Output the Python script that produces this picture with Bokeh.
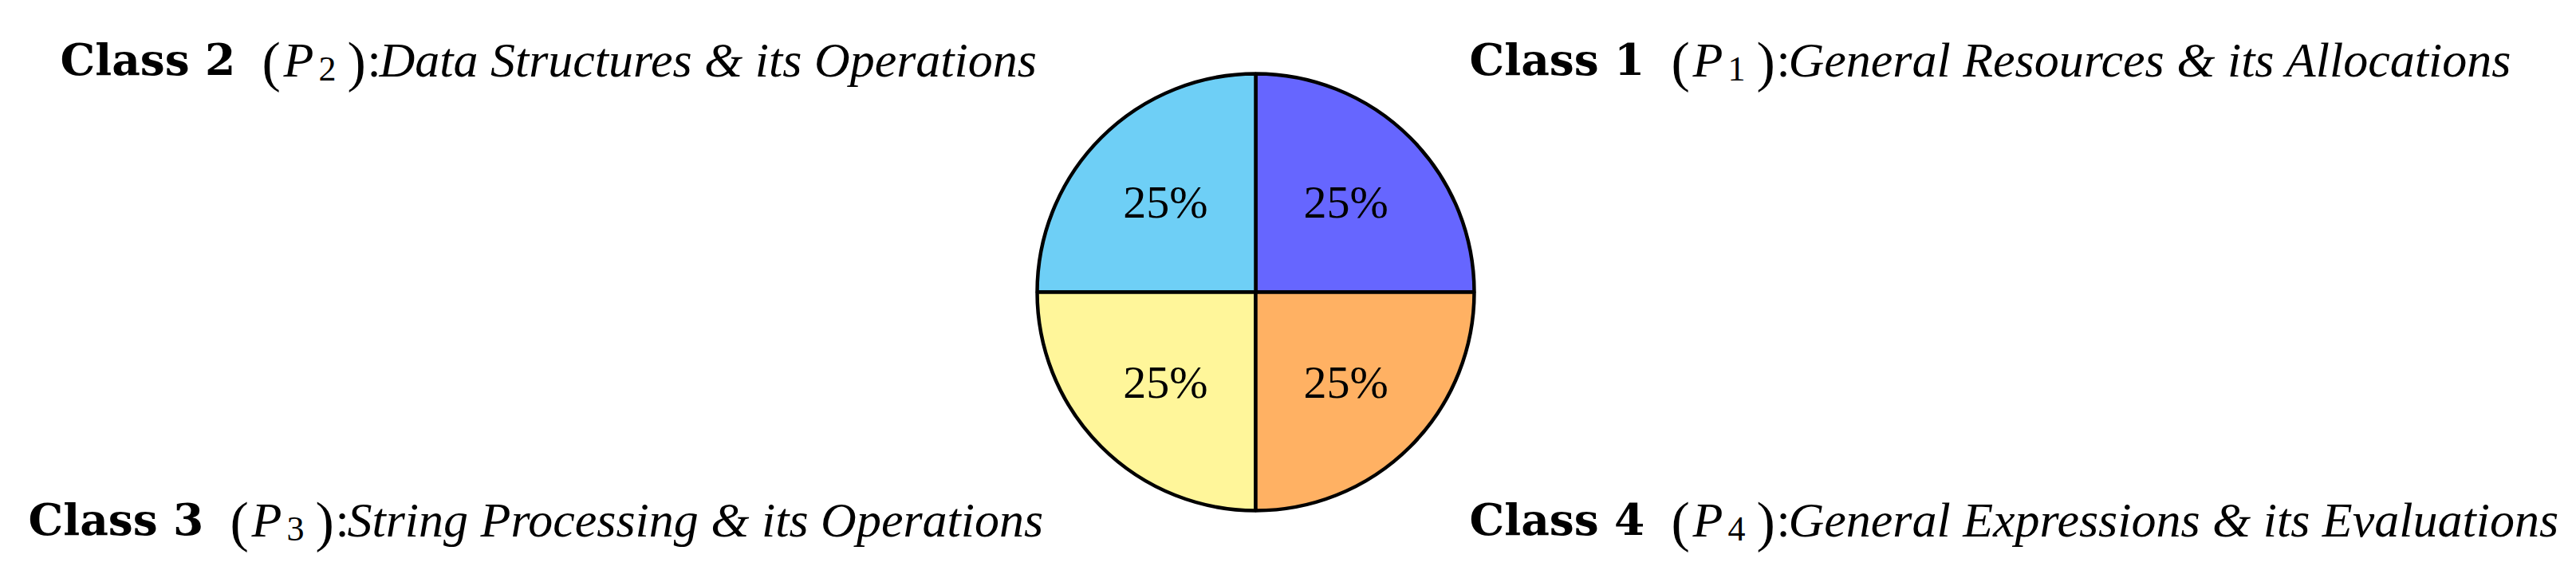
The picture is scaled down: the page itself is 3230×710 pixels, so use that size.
import numpy as np
from bokeh.plotting import figure
from bokeh.models import ColumnDataSource, Range1d
from bokeh.core.properties import value
from bokeh.embed import file_html
from bokeh.resources import INLINE

# ---- data ----
classes = ["Class 1", "Class 2", "Class 3", "Class 4"]
subscripts = ["1", "2", "3", "4"]
descriptions = [
    "General Resources & its Allocations",
    "Data Structures & its Operations",
    "String Processing & its Operations",
    "General Expressions & its Evaluations",
]
shares = [25, 25, 25, 25]
colors = ["#6666FF", "#6ECFF6", "#FFF69A", "#FFB163"]

SERIF = "'Liberation Serif', 'Times New Roman', serif"

W, H = 3214, 694
p = figure(width=W, height=H, x_range=Range1d(0, W), y_range=Range1d(0, H),
           output_backend="svg", toolbar_location=None, min_border=0,
           x_axis_location=None, y_axis_location=None)
p.grid.visible = False
p.outline_line_color = None
p.background_fill_color = "white"

frac = np.array(shares, dtype=float) / sum(shares)
ends = np.cumsum(frac) * 2 * np.pi
starts = ends - frac * 2 * np.pi
mids = (starts + ends) / 2
cx, cy, R, LR = 1574, 328, 274, 160

wsrc = ColumnDataSource(dict(
    start=starts, end=ends, color=colors,
    lx=cx + LR * np.cos(mids), ly=cy + LR * np.sin(mids),
    pct=[f"{round(100 * f)}%" for f in frac],
))
p.wedge(x=cx, y=cy, radius=R, start_angle="start", end_angle="end",
        fill_color="color", line_color="black", line_width=4.5, source=wsrc)
p.text(x="lx", y="ly", text="pct", source=wsrc, text_align="center",
       text_baseline="middle", text_font=value(SERIF),
       text_font_size=value("58px"), text_color="black")

# label anchors (start of "Class" text, baseline)
ax = [1842, 75, 35, 1842]
ay = [620, 620, 43, 43]
lsrc = ColumnDataSource(dict(x=ax, y=ay, cls=classes, sub=subscripts, desc=descriptions))

common = dict(x="x", y="y", source=lsrc, text_baseline="alphabetic",
              text_align="left", text_color="black")
p.text(text="cls", text_font=value("DejaVu Serif"), text_font_style="bold",
       text_font_size=value("55px"), **common)
p.text(text=value("("), x_offset=253, y_offset=3, text_font=value(SERIF),
       text_font_size=value("70px"), **common)
p.text(text=value("P"), x_offset=280, text_font=value(SERIF),
       text_font_style="italic", text_font_size=value("62px"), **common)
p.text(text="sub", x_offset=324, y_offset=12, text_font=value(SERIF),
       text_font_size=value("44px"), **common)
p.text(text=value(")"), x_offset=360, y_offset=3, text_font=value(SERIF),
       text_font_size=value("70px"), **common)
p.text(text=value(":"), x_offset=385, text_font=value(SERIF),
       text_font_size=value("62px"), **common)
p.text(text="desc", x_offset=400, text_font=value(SERIF),
       text_font_style="italic", text_font_size=value("62px"), **common)

open("out.html", "w").write(file_html(p, INLINE))
